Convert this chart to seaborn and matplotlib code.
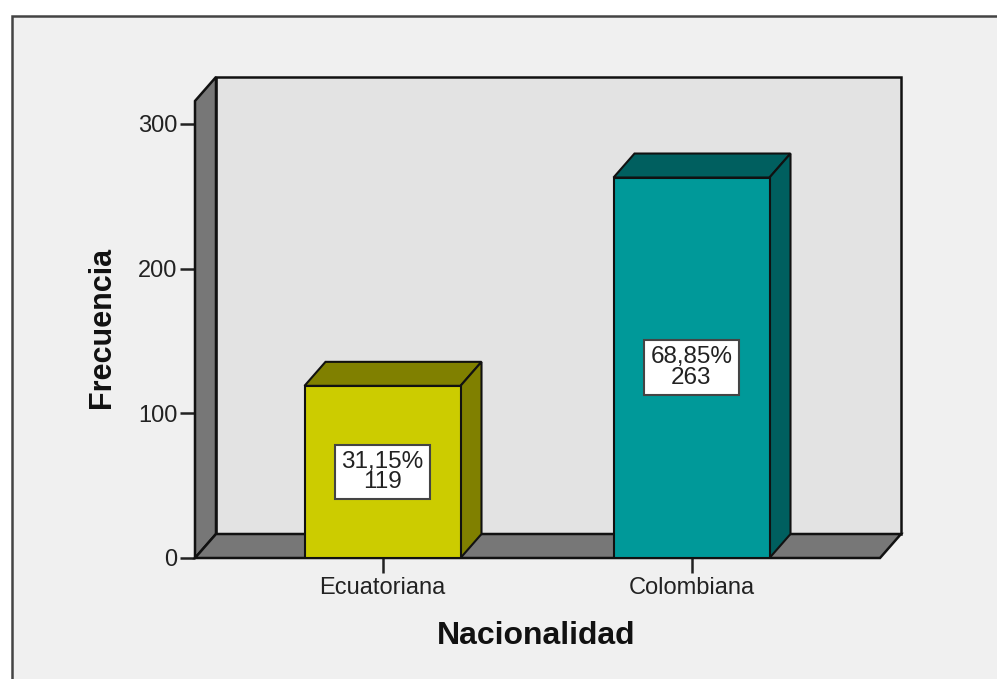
import pandas as pd
import seaborn as sns
import matplotlib
matplotlib.use('Agg')
import matplotlib.pyplot as plt
from matplotlib.patches import Polygon, Rectangle

categories = ['Ecuatoriana', 'Colombiana']
frecuencia = [119, 263]
porcentaje = ['31,15%', '68,85%']
front_colors = ['#CCCC00', '#009999']
side_colors = ['#808000', '#005F5F']
y_ticks = [0, 100, 200, 300]

sns.set_theme(style='white')
plt.rcParams['font.family'] = ['Liberation Sans', 'DejaVu Sans']

W, H = 997, 679
fig = plt.figure(figsize=(W / 100, H / 100), dpi=100, facecolor='white')
fig.add_artist(Rectangle((12 / W, -0.01), 1.0, 1 - 16 / H + 0.01, transform=fig.transFigure,
                         facecolor='#F0F0F0', edgecolor='#444444', linewidth=1.8, zorder=-1))

ax = fig.add_axes([195 / W, 1 - 558 / H, (901 - 195) / W, (558 - 77) / H])
ax.patch.set_visible(False)
df = pd.DataFrame({'nacionalidad': categories, 'frecuencia': frecuencia})
sns.barplot(data=df, x='nacionalidad', y='frecuencia', hue='nacionalidad', order=categories,
            palette=dict(zip(categories, front_colors)), width=156 / 309, legend=False,
            edgecolor='#111111', linewidth=1.5, saturation=1, ax=ax, zorder=5)

x_min, x_max = -187.5 / 309, 518.5 / 309
y_max = 481 / (434 / 300)
dx, dy = 21 / 309, 24 / (434 / 300)
ax.set_xlim(x_min, x_max)
ax.set_ylim(0, y_max)

# fake 3d box: back wall, left wall and floor
line = dict(edgecolor='#111111', linewidth=1.8, clip_on=False)
ax.add_patch(Rectangle((x_min + dx, dy), x_max - x_min - dx, y_max - dy, facecolor='#E3E3E3', zorder=1, **line))
ax.add_patch(Polygon([(x_min, 0), (x_min + dx, dy), (x_min + dx, y_max), (x_min, y_max - dy)],
                     facecolor='#777777', zorder=2, **line))
ax.add_patch(Polygon([(x_min, 0), (x_min + dx, dy), (x_max, dy), (x_max - dx, 0)],
                     facecolor='#777777', zorder=2, **line))

# sides of the bars
for bar, side in zip(ax.patches[:2], side_colors):
    x0, x1, top = bar.get_x(), bar.get_x() + bar.get_width(), bar.get_height()
    ax.add_patch(Polygon([(x0, top), (x0 + dx, top + dy), (x1 + dx, top + dy), (x1, top)],
                         facecolor=side, zorder=4, edgecolor='#111111', linewidth=1.5))
    ax.add_patch(Polygon([(x1, 0), (x1 + dx, dy), (x1 + dx, top + dy), (x1, top)],
                         facecolor=side, zorder=4, edgecolor='#111111', linewidth=1.5))

for i, (val, pct) in enumerate(zip(frecuencia, porcentaje)):
    ax.text(i, val / 2, pct + '\n' + str(val), ha='center', va='center', fontsize=17.5, linespacing=0.92,
            color='#222222', zorder=6,
            bbox=dict(boxstyle='square,pad=0.25', facecolor='white', edgecolor='#444444', linewidth=1.5))

sns.despine(ax=ax, left=True, bottom=True, top=True, right=True)
ax.set_xticks(range(len(categories)))
ax.set_xticklabels(categories)
ax.set_yticks(y_ticks)
ax.tick_params(axis='both', which='major', length=11, width=1.8, color='#222222', labelcolor='#222222',
               labelsize=17, left=True, bottom=True)
ax.tick_params(axis='x', pad=3)
ax.tick_params(axis='y', pad=1.5)
ax.set_xlabel('Nacionalidad', fontsize=23, fontweight='bold', color='#111111')
ax.set_ylabel('Frecuencia', fontsize=22, fontweight='bold', color='#111111')
ax.xaxis.set_label_coords(341 / 706, -63 / 481)
ax.yaxis.set_label_coords(-78 / 706, 231 / 481)

fig.savefig('out.png', dpi=100, facecolor=fig.get_facecolor())
